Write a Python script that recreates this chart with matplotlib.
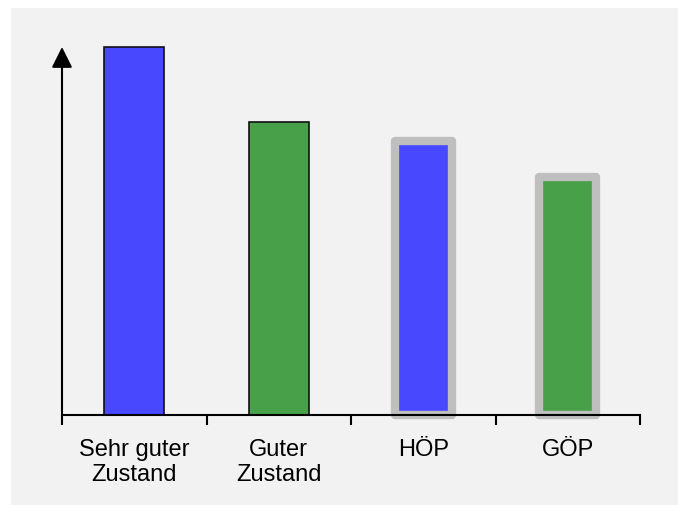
import matplotlib
matplotlib.use("Agg")
import matplotlib.pyplot as plt
from matplotlib.patches import Rectangle

categories = ["Sehr guter\nZustand", "Guter\nZustand", "HÖP", "GÖP"]
values = [100, 79.6, 74.5, 64.7]
colors = ["#4848ff", "#48a048", "#4848ff", "#48a048"]
highlighted = [False, False, True, True]

W, H = 678, 505
fig = plt.figure(figsize=(W / 100, H / 100), dpi=100)
fig.patch.set_facecolor("white")
fig.patches.append(Rectangle((11 / W, 0), 1 - 11 / W, 1 - 8 / H,
                             transform=fig.transFigure, facecolor="#f2f2f2",
                             edgecolor="none", zorder=-10))
plt.rcParams["font.family"] = ["Liberation Sans", "DejaVu Sans"]

left, right, bottom, top = 62, 640, 415, 47
ax = fig.add_axes([left / W, (H - bottom) / H, (right - left) / W, (bottom - top) / H])
ax.set_facecolor("none")
ax.set_xlim(0, 4)
ax.set_ylim(0, 100)

x = [i + 0.5 for i in range(len(values))]
for xi, v, c, hl in zip(x, values, colors, highlighted):
    if hl:
        ax.bar(xi, v, width=57 / 144.5, color=c, edgecolor="#bfbfbf",
               linewidth=6, joinstyle="round", clip_on=False, zorder=2)
    else:
        ax.bar(xi, v, width=60 / 144.5, color=c, edgecolor="#111111",
               linewidth=1.2, clip_on=False, zorder=2)

for s in ["top", "right", "left"]:
    ax.spines[s].set_visible(False)
ax.spines["bottom"].set_linewidth(1.5)
ax.spines["bottom"].set_zorder(3)

ax.annotate("", xy=(0, 1.0), xytext=(0, 0), xycoords="axes fraction",
            arrowprops=dict(arrowstyle="-|>,head_length=0.9,head_width=0.45",
                            color="black", lw=1.5, shrinkA=0, shrinkB=0,
                            mutation_scale=14))

ax.set_yticks([])
ax.set_xticks([0, 1, 2, 3, 4])
ax.set_xticklabels([])
ax.tick_params(axis="x", which="major", direction="out", length=7, width=1.5)
ax.set_xticks(x, minor=True)
ax.set_xticklabels(categories, minor=True, fontsize=17, linespacing=1.17)
ax.tick_params(axis="x", which="minor", length=0, pad=17.5)

fig.savefig("out.png", dpi=100, facecolor=fig.get_facecolor())
